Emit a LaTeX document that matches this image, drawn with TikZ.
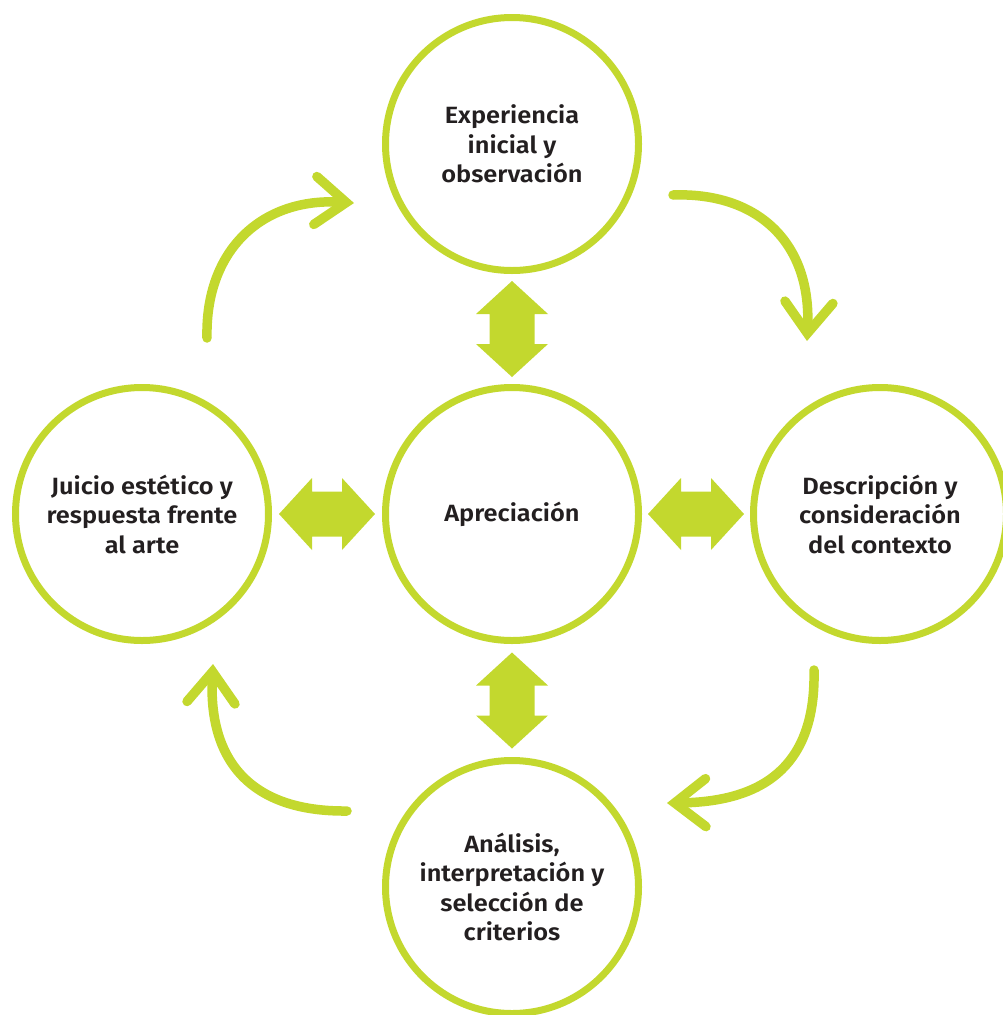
\documentclass[tikz,border=0pt]{standalone}
\usepackage{fontspec}
\setmainfont{Fira Sans}[BoldFont={Fira Sans SemiBold},BoldFeatures={FakeStretch=1.08}]
\usetikzlibrary{arrows.meta,calc}
\definecolor{lime}{RGB}{195,216,46}
\definecolor{ink}{RGB}{35,31,32}
\begin{document}
\begin{tikzpicture}[x=1pt,y=-1pt,
  circ/.style={circle,draw=lime,line width=7pt,fill=white,minimum size=253pt,inner sep=0pt,
    font=\fontsize{23.5}{29.5}\selectfont\bfseries,text=ink,align=center},
  curvearrow/.style={draw=lime,line width=9.5pt,line cap=round,
    -{Straight Barb[length=31pt,width=48pt,line cap=round,line join=miter]}},
  darrow/.pic={\fill[lime] (-48,0) -- (-15,36) -- (-15,22.5) -- (15,22.5) -- (15,36) -- (48,0)
     -- (15,-36) -- (15,-22.5) -- (-15,-22.5) -- (-15,-36) -- cycle;}
]
\useasboundingbox (0,0) rectangle (1003,1015);
\node[circ] (top) at (512,144) {Experiencia\\inicial y\\observación};
\node[circ] (mid) at (512,514) {Apreciación};
\node[circ] (bot) at (512,887) {Análisis,\\interpretación y\\selección de\\criterios};
\node[circ] (lft) at (142,514) {Juicio estético y\\respuesta frente\\al arte};
\node[circ] (rgt) at (880,514) {Descripción y\\consideración\\del contexto};
% double arrows
\pic[rotate=90] at ($(top)!0.5!(mid)$) {darrow};
\pic[rotate=90] at ($(mid)!0.5!(bot)$) {darrow};
\pic at ($(lft)!0.5!(mid)$) {darrow};
\pic at ($(mid)!0.5!(rgt)$) {darrow};
% curved arrows
\coordinate (tlS) at (207,338); \coordinate (tlE) at (354,203);
\coordinate (trS) at (673,195); \coordinate (trE) at (807,341);
\coordinate (brS) at (814,670); \coordinate (brE) at (667,803);
\coordinate (blS) at (347,811); \coordinate (blE) at (213,664);
\draw[curvearrow] (tlS) .. controls (205,250) and (262,197) .. (tlE);
\draw[curvearrow] (trS) .. controls (755,192) and (812,240) .. (trE);
\draw[curvearrow] (brS) .. controls (816,760) and (770,802) .. (brE);
\draw[curvearrow] (blS) .. controls (250,812) and (208,760) .. (blE);
\end{tikzpicture}
\end{document}
